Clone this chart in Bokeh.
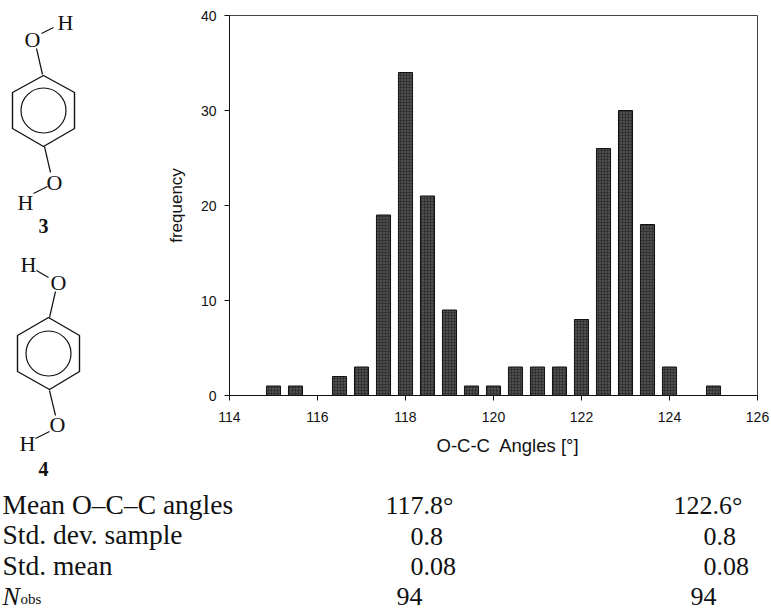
from bokeh.plotting import figure
from bokeh.layouts import column, row
from bokeh.models import Range1d, FixedTicker, Title
from bokeh.core.properties import value
from bokeh.embed import file_html
from bokeh.resources import INLINE

angles = [115, 115.5, 116, 116.5, 117, 117.5, 118, 118.5, 119, 119.5, 120,
          120.5, 121, 121.5, 122, 122.5, 123, 123.5, 124, 124.5, 125]
frequency = [1, 1, 0, 2, 3, 19, 34, 21, 9, 1, 1, 3, 3, 3, 8, 26, 30, 18, 3, 0, 1]
x_ticks = [114, 116, 118, 120, 122, 124, 126]
y_ticks = [0, 10, 20, 30, 40]

row_labels = ["Mean O\u2013C\u2013C angles", "Std. dev. sample", "Std. mean"]
col_a = ["117.8\u00b0", "0.8", "0.08", "94"]
col_b = ["122.6\u00b0", "0.8", "0.08", "94"]

SERIF = value("Liberation Serif")
SANS = "Liberation Sans"
INK = "#111111"

# ---------- chart ----------
p = figure(width=611, height=480, output_backend="svg", toolbar_location=None,
           x_range=Range1d(114, 126), y_range=Range1d(0, 40), frame_align=False,
           min_border_left=69, min_border_right=14, min_border_top=15, min_border_bottom=85)
p.vbar(x=angles, top=frequency, width=0.32, fill_color="#333333", line_color=INK, line_width=1,
       hatch_pattern="dot", hatch_color="#7a7a7a", hatch_scale=3, hatch_weight=1)
p.grid.visible = False
p.outline_line_color = "#444444"
p.outline_line_width = 1
for ax, ticks in ((p.xaxis[0], x_ticks), (p.yaxis[0], y_ticks)):
    ax.ticker = FixedTicker(ticks=ticks)
    ax.axis_label_text_font = SANS
    ax.axis_label_text_font_style = "normal"
    ax.axis_label_text_font_size = "17px"
    ax.axis_label_text_color = INK
    ax.major_label_text_font = SANS
    ax.major_label_text_font_size = "14px"
    ax.major_label_text_color = INK
    ax.major_tick_in = 0
    ax.major_tick_out = 5
    ax.minor_tick_line_color = None
    ax.axis_line_color = INK
    ax.major_tick_line_color = INK
p.yaxis[0].axis_label = "frequency"
p.yaxis[0].axis_label_standoff = 12
p.xaxis[0].major_label_standoff = 11
p.yaxis[0].major_label_standoff = 8
p.add_layout(Title(text="O-C-C\u00a0 Angles [\u00b0]", text_font=SANS, text_font_style="normal",
                   text_font_size="18.5px", text_color=INK, align="left", offset=207, standoff=17), "below")

# ---------- molecules (page-pixel coordinates) ----------
m = figure(width=160, height=480, output_backend="svg", toolbar_location=None,
           x_range=Range1d(0, 160), y_range=Range1d(480, 0), frame_align=False,
           min_border=0, x_axis_type=None, y_axis_type=None, outline_line_color=None)
m.grid.visible = False
ring_x = [[43, 74, 74, 43, 12, 12, 43], [48, 79, 79, 49, 17, 17, 48]]
ring_y = [[75, 92, 128, 146, 128, 92, 75], [317, 335, 371, 389, 371, 335, 317]]
m.multi_line(ring_x, ring_y, line_color=INK, line_width=1.4)
bond_x = [[42, 36], [41, 53], [44, 50], [47, 33], [49, 55], [36, 48], [49, 55], [49, 35]]
bond_y = [[74, 48], [33, 27], [146, 172], [186, 193], [317, 291], [270, 277], [390, 415], [431, 438]]
m.multi_line(bond_x, bond_y, line_color=INK, line_width=1.2)
m.circle(x=[43, 48], y=[110, 353], radius=22.5, fill_color=None, line_color=INK, line_width=1.2)
m.text(x=[32, 65, 54, 25, 58, 28, 57, 27], y=[39, 22, 182, 202, 282, 264, 424, 443],
       text=["O", "H", "O", "H", "O", "H", "O", "H"], text_font=SERIF, text_font_size="22px",
       text_align="center", text_baseline="middle", text_color=INK)
m.text(x=[43, 43], y=[225, 468], text=["3", "4"], text_font=SERIF, text_font_size="20px",
       text_font_style="bold", text_align="center", text_baseline="middle", text_color=INK)

# ---------- table (page-pixel coordinates) ----------
t = figure(width=771, height=130, output_backend="svg", toolbar_location=None,
           x_range=Range1d(0, 771), y_range=Range1d(618, 488), frame_align=False,
           min_border=0, x_axis_type=None, y_axis_type=None, outline_line_color=None)
t.grid.visible = False
t.text(x=[2, 2, 2], y=[512, 542, 573], text=row_labels, text_font=SERIF, text_font_size="27.5px",
       text_baseline="alphabetic", text_color=INK)
t.text(x=[385, 410, 410, 396], y=[513, 544, 574, 604], text=col_a, text_font=SERIF, text_font_size="26px",
       text_baseline="alphabetic", text_color=INK)
t.text(x=[673, 703, 703, 690], y=[513, 544, 574, 604], text=col_b, text_font=SERIF, text_font_size="26px",
       text_baseline="alphabetic", text_color=INK)
t.text(x=[2], y=[604], text=["N"], text_font=SERIF, text_font_size="26px", text_font_style="italic",
       text_baseline="alphabetic", text_color=INK)
t.text(x=[20], y=[606], text=["obs"], text_font=SERIF, text_font_size="15px",
       text_baseline="alphabetic", text_color=INK)

page = column(row(m, p), t)
open("out.html", "w").write(file_html(page, INLINE))
